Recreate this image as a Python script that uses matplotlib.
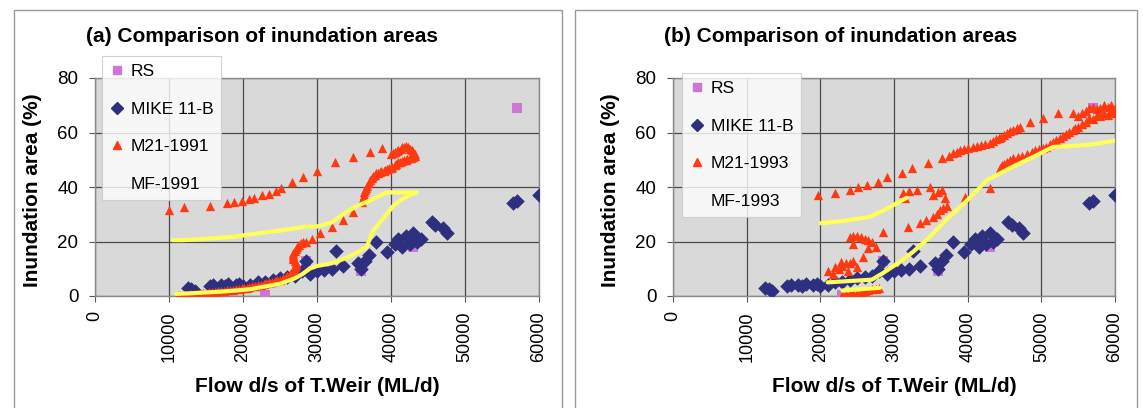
import matplotlib
matplotlib.use("Agg")
import matplotlib.pyplot as plt
from matplotlib.lines import Line2D
from matplotlib.patches import Rectangle

plt.rcParams['font.family'] = ['Liberation Sans', 'DejaVu Sans']

W, H = 1143, 408

# ---- data ----
xticks = [0, 10000, 20000, 30000, 40000, 50000, 60000]
yticks = [0, 20, 40, 60, 80]

rs_x = [23000, 28500, 36000, 43000, 57000]
rs_y = [0.5, 13, 9, 18, 69]

mike_x = [12500, 13000, 13500, 15500, 16000, 17000, 17500, 18000, 19000, 19500, 20000,
          21000, 22000, 23000, 24000, 25000, 26000, 27000, 28000, 28500, 29000, 30000,
          31000, 32000, 32600, 33500, 35500, 36000, 36500, 37000, 38000, 39500, 40500,
          41000, 41500, 42000, 42500, 43000, 43500, 44000, 45500, 46000, 47000, 47500,
          56500, 57000, 60000]
mike_y = [3, 2.5, 2, 3.5, 4, 4, 3.5, 4.5, 4, 4.5, 3.5,
          4, 5, 5, 6, 6.5, 7, 7.5, 9, 13, 8, 9,
          9.5, 10, 16.5, 11, 12, 10, 13, 15, 20, 16, 19,
          21, 18, 22, 19, 23, 20, 21, 27, 26, 25, 23,
          34, 35, 37]

m21_91_x = [10000, 12000, 15500, 17800, 18800, 19800, 20800, 21500, 22500, 23500, 24500,
            25200, 26600, 28100, 30000, 32400, 34900, 37200, 38800,
            40000, 40300, 40500, 40800, 41000, 41300, 41500, 41800, 42000, 42300, 42500,
            42800, 43000, 43300, 43200, 43000, 42700, 42500, 42200, 42000, 41700, 41500,
            41200, 41000, 40700, 40500, 40200, 40000,
            39700, 39500, 39200, 39000, 38700, 38500, 38200, 38000, 37800, 37600, 37400,
            37200, 37000, 36800, 36600, 36500, 36400, 36300, 36200, 36100,
            34900, 33500, 32000, 30400, 29300,
            28500, 28100, 27800, 27500, 27300, 27100, 27000, 26800, 26700, 26700, 26800,
            27000, 27200, 27100, 27000, 26900, 26800, 26500, 26300, 26000, 25800, 25400,
            25000, 24600, 24300, 23900, 23500, 23100, 22800, 22400, 22000, 21600, 21200,
            20800, 20500, 20100, 19800, 19400, 19000, 18600, 18200, 17800, 17400, 17000,
            16600, 16200, 15800, 15400, 15000, 14600, 14200, 13800, 13400, 13000, 12600,
            12200, 11800, 11500, 11200]
m21_91_y = [31.5, 32.5, 33, 34, 34.5, 35, 35.5, 36, 37, 37.5, 38.5,
            39.6, 42, 43.7, 46, 49, 51, 53, 54.3,
            52, 52.5, 53, 53.3, 53.5, 54, 54.5, 54.8, 55, 54.6, 54,
            53.5, 53, 52, 51.5, 51, 50.8, 50.5, 50.2, 50, 49.8, 49.5,
            49.2, 49, 48.5, 48, 47.5, 47,
            46.8, 46.5, 46.2, 46, 45.8, 45.5, 45.2, 45, 44.5, 44, 43.3,
            42.5, 41.5, 40.5, 39.8, 39, 38, 37, 35.8, 34.5,
            31, 28, 25.5, 23, 21,
            20, 19.8, 19.4, 18.7, 18, 17.2, 16.5, 15.7, 15, 14.2, 13.5,
            12.8, 12, 11.2, 10.5, 9.8, 9, 8.5, 8, 7.5, 7, 6.5,
            6, 5.8, 5.5, 5.2, 5, 4.7, 4.5, 4.2, 4, 3.7, 3.5,
            3.2, 3, 2.9, 2.8, 2.6, 2.5, 2.3, 2.2, 2.1, 2, 1.8,
            1.7, 1.6, 1.5, 1.3, 1.2, 1.1, 1, 0.8, 0.7, 0.6, 0.5,
            0.4, 0.3, 0.25, 0.2]

mf_91_x = [11000, 13000, 15000, 17000, 19000, 21000, 23000, 25000, 27000, 28000, 29000,
           30000, 32000, 34000, 35500, 36700, 37600, 38500, 39400, 40300, 41200, 42500,
           43500, 41000, 39400, 37500, 35400, 33500, 32000, 30000, 28600, 25000, 22000,
           18600, 15000, 12000, 10500]
mf_91_y = [0.8, 1, 1.3, 1.6, 2, 2.5, 3.5, 4.5, 6.5, 8, 10,
           11, 12, 14, 16, 18, 24, 27, 30, 33, 35, 37,
           38, 38, 38, 35.5, 33, 30, 27, 25.5, 25.5, 24, 23,
           21.7, 21, 20.5, 20.5]

m21_93_x = [19700, 22000, 24000, 25100, 26400, 27800, 29000, 31100, 32400, 34600, 36500,
            37500, 38000, 38500, 39000, 39500, 40000, 40700, 41200, 41800, 42400, 43000,
            43400, 43800, 44200, 44500, 44900, 45300, 45800, 46200, 46700, 47100, 48400,
            50200, 52200, 54300,
            55000, 55500, 56000, 56500, 57000, 57500, 58000, 58500, 59000, 59500, 60000,
            60000, 59500, 59000, 58500, 58000, 57500, 57000, 56500, 56000,
            55500, 55000, 54600, 54300, 53800, 53400, 53000, 52500, 52000, 51600, 51200,
            50700, 50200, 49700, 49200, 48700, 48000, 47400, 46800, 46100, 45700, 45300,
            44900, 44600, 44400, 43000, 39600,
            37200, 36700, 36200, 35800, 35300, 34400, 33500, 31900, 28500,
            31200, 33100, 34900, 35300, 36500, 36900, 31500, 32000, 36000,
            24000, 24500, 25000, 25500, 26000, 26500, 27000, 27500, 26500, 24500, 25800,
            21700, 22000, 22500, 23000, 23500, 24000, 24500, 21000, 25000, 22800, 23800,
            23000, 23500, 24000, 24500, 25000, 25500, 26000, 26500, 27000, 27500, 28000]
m21_93_y = [37, 37.8, 39, 40, 40.7, 41.8, 43.7, 45, 47, 48.8, 50.6,
            51.5, 52.3, 53, 53.4, 53.8, 54.2, 54.7, 55.1, 55.5, 55.9, 56.3,
            57, 57.5, 58, 58.5, 59.2, 59.8, 60.4, 61, 61.5, 62, 64,
            65.3, 67, 67,
            66, 67, 68, 69, 69.5, 68.5, 69, 70, 69.5, 70, 69,
            67, 67.5, 66.5, 67, 66, 66.5, 65, 65.5, 64,
            63, 62, 61.5, 61, 60.2, 59.5, 58.8, 58, 57.2, 56.5, 55.6,
            54.7, 54.2, 53.8, 53.4, 53, 52.2, 51.5, 51, 50.6, 49.8, 49,
            48.5, 48, 47, 39.6, 36.4,
            33, 32.2, 31.5, 30.2, 29, 27.8, 26.7, 25.4, 23.5,
            37.7, 39, 40, 37, 39, 36, 36, 38.5, 38,
            21.5, 22, 22, 21.5, 21, 20.5, 20, 18, 17.5, 19, 14.3,
            8, 10.5, 10, 11, 12, 12, 13, 9, 10.5, 12.5, 9,
            0.5, 0.8, 1, 1.1, 1.2, 1.5, 1.8, 2.1, 2.5, 2.7, 3]

mf_93_x = [21000, 24000, 27000, 28500, 30500, 32500, 34400, 37100, 39900, 42600, 46100,
           49400, 51600, 54000, 56500, 58900, 60000]
mf_93_y = [5, 5.5, 6, 8.4, 12, 16, 20.5, 28, 35, 42.5, 47.4,
           51.7, 54.7, 55, 55.5, 56.5, 57]
mf_93_upper_x = [20000, 23000, 26700, 29000, 31700]
mf_93_upper_y = [26.7, 27.5, 29, 32, 36]
mf_93_low_x = [23000, 25500, 28100]
mf_93_low_y = [2, 2.5, 3]

C_RS = '#CC77D4'
C_MIKE = '#2E2F7E'
C_M21 = '#FF3A10'
C_MF = '#FFFF5A'


def fx(px):
    return px / W


def fy(py):
    return 1 - py / H


def panel(left_px, right_px, m21_x, m21_y, mf_lines, m21_label, mf_label,
          title, title_cx, legend_xy):
    ax = fig.add_axes([fx(left_px), fy(296), fx(right_px - left_px), (296 - 78) / H])
    ax.set_facecolor('#D9D9D9')
    ax.scatter(rs_x, rs_y, marker='s', s=50, color=C_RS, linewidths=0, zorder=3)
    ax.scatter(mike_x, mike_y, marker='D', s=55, color=C_MIKE, linewidths=0, zorder=4)
    ax.scatter(m21_x, m21_y, marker='^', s=45, color=C_M21, linewidths=0, zorder=5)
    for xs, ys in mf_lines:
        ax.plot(xs, ys, color=C_MF, lw=3, zorder=6, solid_capstyle='round')

    ax.set_xlim(0, 60000)
    ax.set_ylim(0, 80)
    ax.set_xticks(xticks)
    ax.set_xticklabels([str(t) for t in xticks], rotation=90, fontsize=13)
    ax.set_yticks(yticks)
    ax.set_yticklabels([str(t) for t in yticks], fontsize=13.5)
    ax.tick_params(length=4, color='#555555')
    ax.tick_params(axis='y', pad=8)
    ax.tick_params(axis='x', pad=7)
    ax.grid(True, color='#4A4A4A', lw=0.9)
    ax.set_axisbelow(True)
    for s in ax.spines.values():
        s.set_color('#8A8A8A')
        s.set_linewidth(1)

    handles = [Line2D([], [], marker='s', color=C_RS, ls='none', markersize=6),
               Line2D([], [], marker='D', color=C_MIKE, ls='none', markersize=6),
               Line2D([], [], marker='^', color=C_M21, ls='none', markersize=6),
               Line2D([], [], ls='none')]
    leg = fig.legend(handles, ['RS', 'MIKE 11-B', m21_label, mf_label],
                     loc='upper left', bbox_to_anchor=(fx(legend_xy[0]), fy(legend_xy[1])),
                     fontsize=12.5, frameon=True, fancybox=False, labelspacing=1.3,
                     handlelength=0.8, handletextpad=0.4, borderpad=0.45,
                     borderaxespad=0)
    leg.get_frame().set_edgecolor('#C8C8C8')
    leg.get_frame().set_linewidth(0.8)

    fig.text(fx(title_cx), fy(36), title, ha='center', va='center',
             fontsize=15, fontweight='bold')
    fig.text(fx(left_px - 62), fy(190), 'Inundation area (%)', rotation=90,
             ha='center', va='center', fontsize=15, fontweight='bold')
    fig.text(fx((left_px + right_px) / 2), fy(386), 'Flow d/s of T.Weir (ML/d)',
             ha='center', va='center', fontsize=15, fontweight='bold')
    return ax


fig = plt.figure(figsize=(W / 100, H / 100), dpi=100)

# panel frames
fig.add_artist(Rectangle((fx(14), -0.1), fx(562 - 14), fy(10) + 0.1,
                         transform=fig.transFigure, fill=False, ec='#9A9A9A', lw=1))
fig.add_artist(Rectangle((fx(575), -0.1), fx(1137 - 575), fy(10) + 0.1,
                         transform=fig.transFigure, fill=False, ec='#9A9A9A', lw=1))

panel(95, 539, m21_91_x, m21_91_y, [(mf_91_x, mf_91_y)], 'M21-1991', 'MF-1991',
      '(a) Comparison of inundation areas', 262, (102, 56))
panel(673, 1115, m21_93_x, m21_93_y,
      [(mf_93_x, mf_93_y), (mf_93_upper_x, mf_93_upper_y), (mf_93_low_x, mf_93_low_y)],
      'M21-1993', 'MF-1993', '(b) Comparison of inundation areas', 841, (682, 73))

fig.savefig('out.png', dpi=100)
